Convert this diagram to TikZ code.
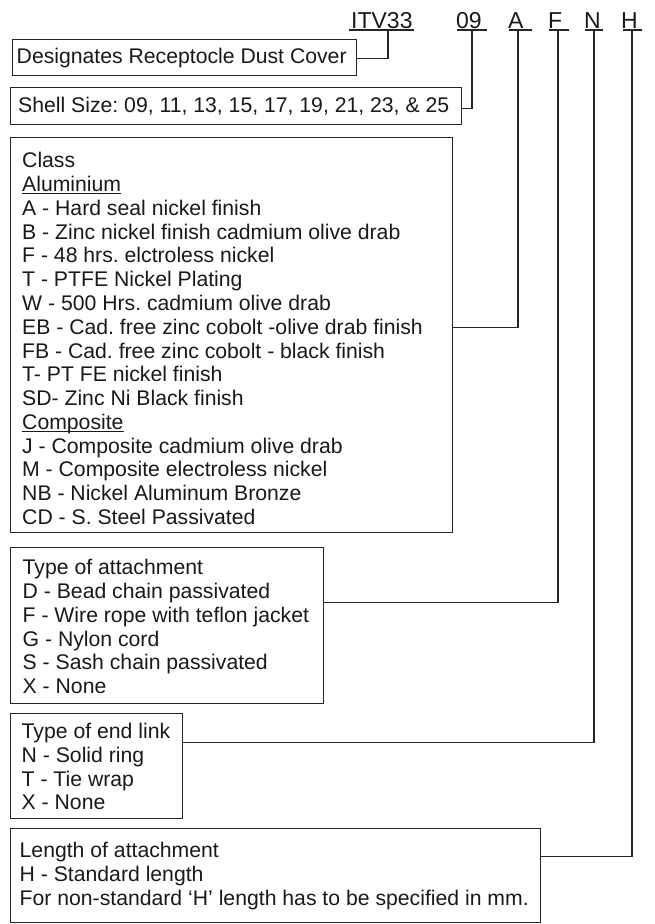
\documentclass[tikz,border=0pt]{standalone}
\usepackage{fontspec}
\setmainfont{Liberation Sans}
\newcommand\ulfix[1]{\sbox0{#1}\rlap{\rule[-2.6pt]{\wd0}{1.1pt}}#1}
\begin{document}
\frenchspacing
\begin{tikzpicture}[x=1pt,y=-1pt,
  box/.style={draw=black!85, line width=1.2pt, inner sep=0pt, anchor=north west},
  txt/.style={inner sep=0pt, align=left, text=black!90, font=\fontsize{21.2}{23.78}\selectfont\frenchspacing},
  code/.style={inner sep=0pt, text=black!90, font=\fontsize{23}{27}\selectfont, anchor=base west},
  uline/.style={draw=black!85, line width=1.1pt},
  conn/.style={draw=black!85, line width=1.2pt}]
\useasboundingbox (0,0) rectangle (654,924);

% code letters
\node[code] (cI) at (351,28.5) {ITV33};
\node[code] (c09) at (456,28.5) {09};
\node[code] (cA) at (508,28.5) {A};
\node[code] (cF) at (548,28.5) {F};
\node[code] (cN) at (584,28.5) {N};
\node[code] (cH) at (621,28.5) {H};

\draw[uline] ([shift={(-2,1.5)}]cI.base west) -- ([shift={(1.6,1.5)}]cI.base east);
\draw[uline] ([shift={(1,1.5)}]c09.base west) -- ([shift={(5.4,1.5)}]c09.base east);
\draw[uline] ([shift={(1,1.5)}]cA.base west) -- ([shift={(8.7,1.5)}]cA.base east);
\draw[uline] ([shift={(1,1.5)}]cF.base west) -- ([shift={(7,1.5)}]cF.base east);
\draw[uline] ([shift={(1,1.5)}]cN.base west) -- ([shift={(2.4,1.5)}]cN.base east);
\draw[uline] ([shift={(2,1.5)}]cH.base west) -- ([shift={(4.4,1.5)}]cH.base east);

\coordinate (uI) at (388,30);
\coordinate (u09) at (472,30);
\coordinate (uA) at (518,30);
\coordinate (uF) at (558,30);
\coordinate (uN) at (594,30);
\coordinate (uH) at (632,30);

% boxes
\node[box, minimum width=344.5pt, minimum height=36pt] (b1) at (11.5,39) {};
\node[box, minimum width=451.5pt, minimum height=37pt] (b2) at (9.5,87) {};
\node[box, minimum width=442.5pt, minimum height=395pt] (cls) at (9.5,137) {};
\node[box, minimum width=313.5pt, minimum height=156pt] (att) at (9.5,547) {};
\node[box, minimum width=172.5pt, minimum height=105pt] (endl) at (9.5,713) {};
\node[box, minimum width=530.5pt, minimum height=94pt] (len) at (9.5,828) {};

% texts
\node[txt, anchor=base west] (t1) at ([shift={(5,24)}]b1.north west) {Designates Receptocle Dust Cover};
\node[txt, anchor=base west] (t2) at ([shift={(8.5,25.5)}]b2.north west) {Shell Size: 09, 11, 13, 15, 17, 19, 21, 23, \& 25};
\node[txt, anchor=north west] (tcls) at ([shift={(12.5,15.2)}]cls.north west) {Class\\
\ulfix{Aluminium}\\
A - Hard seal nickel finish\\
B - Zinc nickel finish cadmium olive drab\\
F - 48 hrs. elctroless nickel\\
T - PTFE Nickel Plating\\
W - 500 Hrs. cadmium olive drab\\
EB - Cad. free zinc cobolt -olive drab finish\\
FB - Cad. free zinc cobolt - black finish\\
T- PT FE nickel finish\\
SD- Zinc Ni Black finish\\
\ulfix{Composite}\\
J - Composite cadmium olive drab\\
M - Composite electroless nickel\\
NB - Nickel Aluminum Bronze\\
CD - S. Steel Passivated};
\node[txt, anchor=north west] (tatt) at ([shift={(13,12.2)}]att.north west) {Type of attachment\\
D - Bead chain passivated\\
F - Wire rope with teflon jacket\\
G - Nylon cord\\
S - Sash chain passivated\\
X - None};
\node[txt, anchor=north west] (tend) at ([shift={(12,10)}]endl.north west) {Type of end link\\
N - Solid ring\\
T - Tie wrap\\
X - None};
\node[txt, anchor=north west] (tlen) at ([shift={(10,14)}]len.north west) {Length of attachment\\
H - Standard length\\
For non-standard ‘H’ length has to be specified in mm.};

% connectors
\draw[conn] ([yshift=-1pt]b1.east) -| (uI);
\draw[conn] ([yshift=-2.5pt]b2.east) -| (u09);
\draw[conn] ([yshift=7.5pt]cls.east) -| (uA);
\draw[conn] ([yshift=23pt]att.east) -| (uF);
\draw[conn] ([yshift=23.5pt]endl.east) -| (uN);
\draw[conn] ([yshift=19pt]len.east) -| (uH);
\end{tikzpicture}
\end{document}
